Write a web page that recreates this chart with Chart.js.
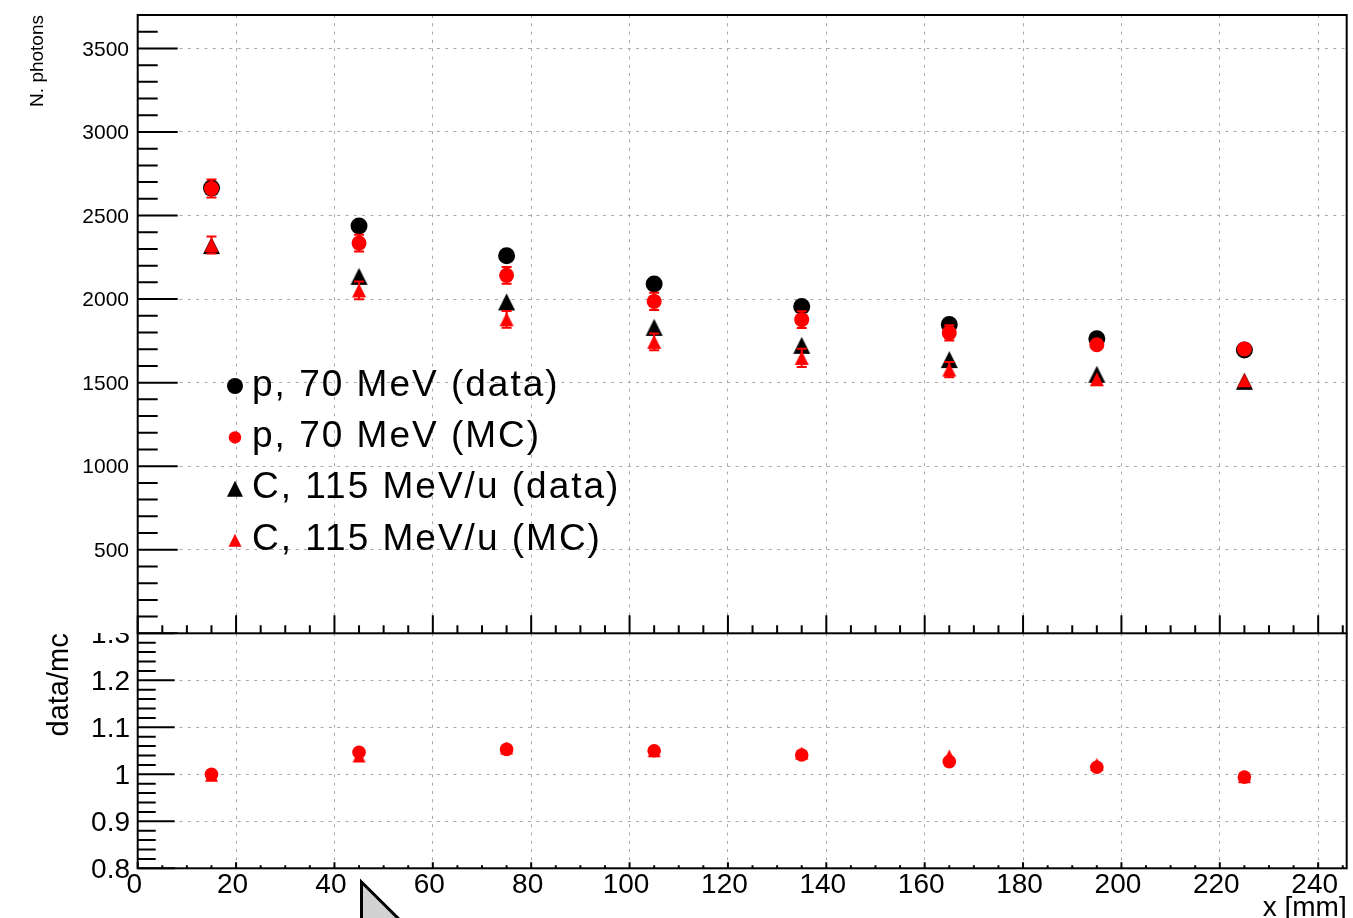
<!DOCTYPE html>
<html><head><meta charset="utf-8">
<script src="https://cdn.jsdelivr.net/npm/chart.js@4.4.1/dist/chart.umd.min.js"></script>
<style>
html,body{margin:0;padding:0;background:#fff;width:1353px;height:918px;overflow:hidden;}
#c1{position:absolute;left:0;top:0;}
#c2{position:absolute;left:0;top:633px;}
#cur{position:absolute;left:0;top:0;}
</style></head><body>
<canvas id="c1" width="1353" height="634"></canvas>
<canvas id="c2" width="1353" height="285"></canvas>
<svg id="cur" width="1353" height="918"><polygon points="361.5,882 361.5,940 420,940" fill="#d2d2d2" stroke="#000" stroke-width="3" stroke-linejoin="miter"/></svg>
<script>
// ---- data ----
const xPositions = [15, 45, 75, 105, 135, 165, 195, 225];
const pData    = [2664, 2438, 2259, 2090, 1956, 1848, 1762, 1695];
const pDataErr = [20, 20, 20, 20, 20, 20, 20, 20];
const pMC      = [2662, 2335, 2142, 1986, 1877, 1798, 1727, 1702];
const pMCErr   = [54, 50, 50, 52, 50, 46, 36, 35];
const cData    = [2320, 2136, 1983, 1831, 1723, 1638, 1550, 1508];
const cDataErr = [20, 20, 20, 20, 20, 20, 20, 20];
const cMC      = [2324, 2052, 1879, 1744, 1648, 1578, 1520, 1514];
const cMCErr   = [51, 53, 50, 50, 55, 46, 36, 35];
const pRatio    = [1.000, 1.047, 1.053, 1.050, 1.041, 1.027, 1.015, 0.994];
const pRatioErr = [0.008, 0.008, 0.008, 0.008, 0.008, 0.008, 0.008, 0.008];
const cRatio    = [0.998, 1.039, 1.056, 1.050, 1.045, 1.039, 1.021, 0.995];
const cRatioErr = [0.008, 0.008, 0.008, 0.008, 0.008, 0.008, 0.008, 0.008];
const seriesLabels = ['p, 70 MeV (data)', 'p, 70 MeV (MC)', 'C, 115 MeV/u (data)', 'C, 115 MeV/u (MC)'];
const xTickValues = [0, 20, 40, 60, 80, 100, 120, 140, 160, 180, 200, 220, 240];
const xTickLabels = ['0', '20', '40', '60', '80', '100', '120', '140', '160', '180', '200', '220', '240'];
const topYTickValues = [0, 500, 1000, 1500, 2000, 2500, 3000, 3500];
const topYTickLabels = ['', '500', '1000', '1500', '2000', '2500', '3000', '3500'];
const ratioTickValues = [0.8, 0.9, 1.0, 1.1, 1.2, 1.3];
const ratioTickLabels = ['0.8', '0.9', '1', '1.1', '1.2', '1.3'];
const xTitle = 'x [mm]';
const topYTitle = 'N. photons';
const ratioYTitle = 'data/mc';

// ---- helpers ----
const FONT = '"Liberation Sans", Arial, Helvetica, sans-serif';
Chart.defaults.font.family = FONT;
Chart.defaults.color = '#000';
const RED = '#ff0000', BLACK = '#000000';
// keep the plot area exactly where the layout puts it (no auto inset for marker size)
[Chart.registry.getController('scatter'), Chart.registry.getController('line')].forEach(C => {
  if (C && C.prototype) C.prototype.getMaxOverflow = function () { return 0; };
});

function triImage(size, color) {
  const c = document.createElement('canvas');
  c.width = size + 2; c.height = size + 2;
  const g = c.getContext('2d');
  g.fillStyle = color;
  g.beginPath();
  g.moveTo(c.width / 2, 1);
  g.lineTo(c.width - 1, c.height - 1);
  g.lineTo(1, c.height - 1);
  g.closePath();
  g.fill();
  return c;
}
function drawMarker(ctx, style, x, y, size, color) {
  ctx.fillStyle = color;
  ctx.beginPath();
  if (style === 'triangle') {
    ctx.moveTo(x, y - size / 2);
    ctx.lineTo(x + size / 2, y + size / 2);
    ctx.lineTo(x - size / 2, y + size / 2);
    ctx.closePath();
  } else {
    ctx.arc(x, y, size / 2, 0, Math.PI * 2);
  }
  ctx.fill();
}
const pts = (ys) => xPositions.map((x, i) => ({x, y: ys[i]}));
const fixWidth = w => s => { s.width = w; s.paddingTop = 0; s.paddingBottom = 0; s.paddingLeft = 0; s.paddingRight = 0; };
const fixHeight = h => s => { s.height = h; s.paddingTop = 0; s.paddingBottom = 0; s.paddingLeft = 0; s.paddingRight = 0; };

// ROOT-like error bars: only drawn when they reach outside the marker
const errorBars = {
  id: 'errorBars',
  afterDatasetDraw(chart, args) {
    const ds = chart.data.datasets[args.index];
    if (!ds.errors) return;
    const ys = chart.scales.y, ctx = chart.ctx;
    ctx.save();
    ctx.strokeStyle = ds.backgroundColor;
    ctx.lineWidth = 2;
    args.meta.data.forEach((pt, i) => {
      const v = ds.data[i].y, e = ds.errors[i];
      const y1 = ys.getPixelForValue(v - e), y2 = ys.getPixelForValue(v + e);
      if (Math.abs(y1 - pt.y) <= ds.markerHalf) return;
      const x = pt.x, cw = ds.capHalf;
      ctx.beginPath();
      ctx.moveTo(x, y1); ctx.lineTo(x, y2);
      ctx.moveTo(x - cw, y1); ctx.lineTo(x + cw, y1);
      ctx.moveTo(x - cw, y2); ctx.lineTo(x + cw, y2);
      ctx.stroke();
    });
    ctx.restore();
  }
};

const rootFrame = {
  id: 'rootFrame',
  afterDraw(chart, args, o) {
    const {ctx, chartArea: a} = chart;
    const xs = chart.scales.x, ys = chart.scales.y;
    ctx.save();
    ctx.strokeStyle = '#000';
    ctx.lineWidth = 2;
    ctx.beginPath();
    const ny = Math.round((ys.max - ys.min) / o.yMinor);
    for (let k = 0; k <= ny; k++) {
      const v = ys.min + k * o.yMinor;
      const py = ys.getPixelForValue(v);
      const major = k % o.yMajorEvery === 0;
      ctx.moveTo(a.left, py); ctx.lineTo(a.left + (major ? o.yMajorLen : o.yMinorLen), py);
    }
    const nx = Math.floor((xs.max - xs.min) / o.xMinor + 1e-6);
    for (let k = 0; k <= nx; k++) {
      const v = xs.min + k * o.xMinor;
      const px = xs.getPixelForValue(v);
      const major = k % o.xMajorEvery === 0;
      ctx.moveTo(px, a.bottom); ctx.lineTo(px, a.bottom - (major ? o.xMajorLen : o.xMinorLen));
    }
    ctx.stroke();
    ctx.strokeRect(a.left, a.top, a.right - a.left, a.bottom - a.top);
    ctx.restore();
  }
};

const legendBox = {
  id: 'legendBox',
  afterDraw(chart, args, o) {
    if (!o.display) return;
    const ctx = chart.ctx;
    ctx.save();
    o.order.forEach((dsIndex, row) => {
      const ds = chart.data.datasets[dsIndex];
      const cy = o.firstRow + row * o.rowStep;
      drawMarker(ctx, ds.legendStyle, o.markerX, cy, ds.legendSize, ds.backgroundColor);
      ctx.font = o.font;
      ctx.letterSpacing = o.letterSpacing;
      ctx.fillStyle = '#000';
      ctx.textAlign = 'left';
      ctx.textBaseline = 'alphabetic';
      ctx.fillText(ds.label, o.textX, cy + o.baselineOffset);
    });
    ctx.restore();
  }
};

const gridCfg = {display: true, drawTicks: false, color: '#a8a8a8', lineWidth: 1};
const borderCfg = {display: false, dash: [3, 5.3]};
const xMin = 0, xMax = 245.8;

// ---- upper chart ----
new Chart(document.getElementById('c1'), {
  type: 'scatter',
  data: {
    datasets: [
      {label: seriesLabels[0], data: pts(pData), errors: pDataErr, capHalf: 0, markerHalf: 8.5, order: 3,
       pointStyle: 'circle', pointRadius: 8.5, pointHoverRadius: 8.5, borderWidth: 0,
       backgroundColor: BLACK, legendStyle: 'circle', legendSize: 16},
      {label: seriesLabels[1], data: pts(pMC), errors: pMCErr, capHalf: 5, markerHalf: 7.5, order: 1,
       pointStyle: 'circle', pointRadius: 7.5, pointHoverRadius: 7.5, borderWidth: 0,
       backgroundColor: RED, legendStyle: 'circle', legendSize: 12.5},
      {label: seriesLabels[2], data: pts(cData), errors: cDataErr, capHalf: 0, markerHalf: 8.5, order: 4,
       pointStyle: triImage(17, BLACK), borderWidth: 0,
       backgroundColor: BLACK, legendStyle: 'triangle', legendSize: 16},
      {label: seriesLabels[3], data: pts(cMC), errors: cMCErr, capHalf: 5, markerHalf: 7, order: 2,
       pointStyle: triImage(14, RED), borderWidth: 0,
       backgroundColor: RED, legendStyle: 'triangle', legendSize: 13}
    ]
  },
  options: {
    responsive: false, animation: false, events: [],
    layout: {padding: {left: 0, right: 6.3, top: 15, bottom: 0.7}},
    plugins: {
      legend: {display: false}, tooltip: {enabled: false},
      rootFrame: {yMinor: 100, yMajorEvery: 5, yMajorLen: 40, yMinorLen: 20,
                  xMinor: 5, xMajorEvery: 4, xMajorLen: 18, xMinorLen: 8},
      legendBox: {display: true, order: [0, 1, 2, 3], firstRow: 386, rowStep: 51.4,
                  markerX: 235, textX: 252, baselineOffset: 9.5,
                  font: '37px ' + FONT, letterSpacing: '2px'}
    },
    scales: {
      x: {type: 'linear', min: xMin, max: xMax,
          afterBuildTicks: s => { s.ticks = xTickValues.map(v => ({value: v})); },
          afterFit: fixHeight(0),
          ticks: {display: false},
          grid: gridCfg, border: borderCfg},
      y: {type: 'linear', min: 0, max: 3700,
          afterBuildTicks: s => { s.ticks = topYTickValues.map(v => ({value: v})); },
          afterFit: fixWidth(137.7),
          ticks: {padding: 8.7, labelOffset: 1.4, font: {size: 21}, callback: (v, i) => topYTickLabels[i]},
          title: {display: true, text: topYTitle, align: 'end', font: {size: 19},
                  padding: {top: 26, bottom: 0}},
          grid: gridCfg, border: borderCfg}
    }
  },
  plugins: [errorBars, rootFrame, legendBox]
});

// ---- lower chart (ratio) ----
new Chart(document.getElementById('c2'), {
  type: 'scatter',
  data: {
    datasets: [
      {label: 'p ratio', data: pts(pRatio), errors: pRatioErr, capHalf: 0, markerHalf: 6.8, order: 1,
       pointStyle: 'circle', pointRadius: 6.8, pointHoverRadius: 6.8, borderWidth: 0,
       backgroundColor: RED},
      {label: 'C ratio', data: pts(cRatio), errors: cRatioErr, capHalf: 0, markerHalf: 6.5, order: 2,
       pointStyle: triImage(13, RED), borderWidth: 0,
       backgroundColor: RED}
    ]
  },
  options: {
    responsive: false, animation: false, events: [],
    layout: {padding: {left: 0, right: 6.3, top: 0.3, bottom: 0}},
    plugins: {
      legend: {display: false}, tooltip: {enabled: false},
      rootFrame: {yMinor: 0.02, yMajorEvery: 5, yMajorLen: 37, yMinorLen: 18,
                  xMinor: 5, xMajorEvery: 4, xMajorLen: 6, xMinorLen: 3},
      legendBox: {display: false}
    },
    scales: {
      x: {type: 'linear', min: xMin, max: xMax,
          afterBuildTicks: s => { s.ticks = xTickValues.map(v => ({value: v})); },
          afterFit: fixHeight(49.7),
          ticks: {padding: 0, labelOffset: -3.5, font: {size: 28}, maxRotation: 0, autoSkip: false,
                  callback: (v, i) => xTickLabels[i]},
          title: {display: true, text: xTitle, align: 'end', font: {size: 28},
                  padding: {top: 0, bottom: -7.1}},
          grid: gridCfg, border: borderCfg},
      y: {type: 'linear', min: 0.8, max: 1.3,
          afterBuildTicks: s => { s.ticks = ratioTickValues.map(v => ({value: v})); },
          afterFit: fixWidth(137.7),
          ticks: {padding: 7.7, labelOffset: 2, font: {size: 28}, callback: (v, i) => ratioTickLabels[i]},
          title: {display: true, text: ratioYTitle, align: 'end', font: {size: 29},
                  padding: {top: 43, bottom: 0}},
          grid: gridCfg, border: borderCfg}
    }
  },
  plugins: [errorBars, rootFrame]
});
</script>
</body></html>
